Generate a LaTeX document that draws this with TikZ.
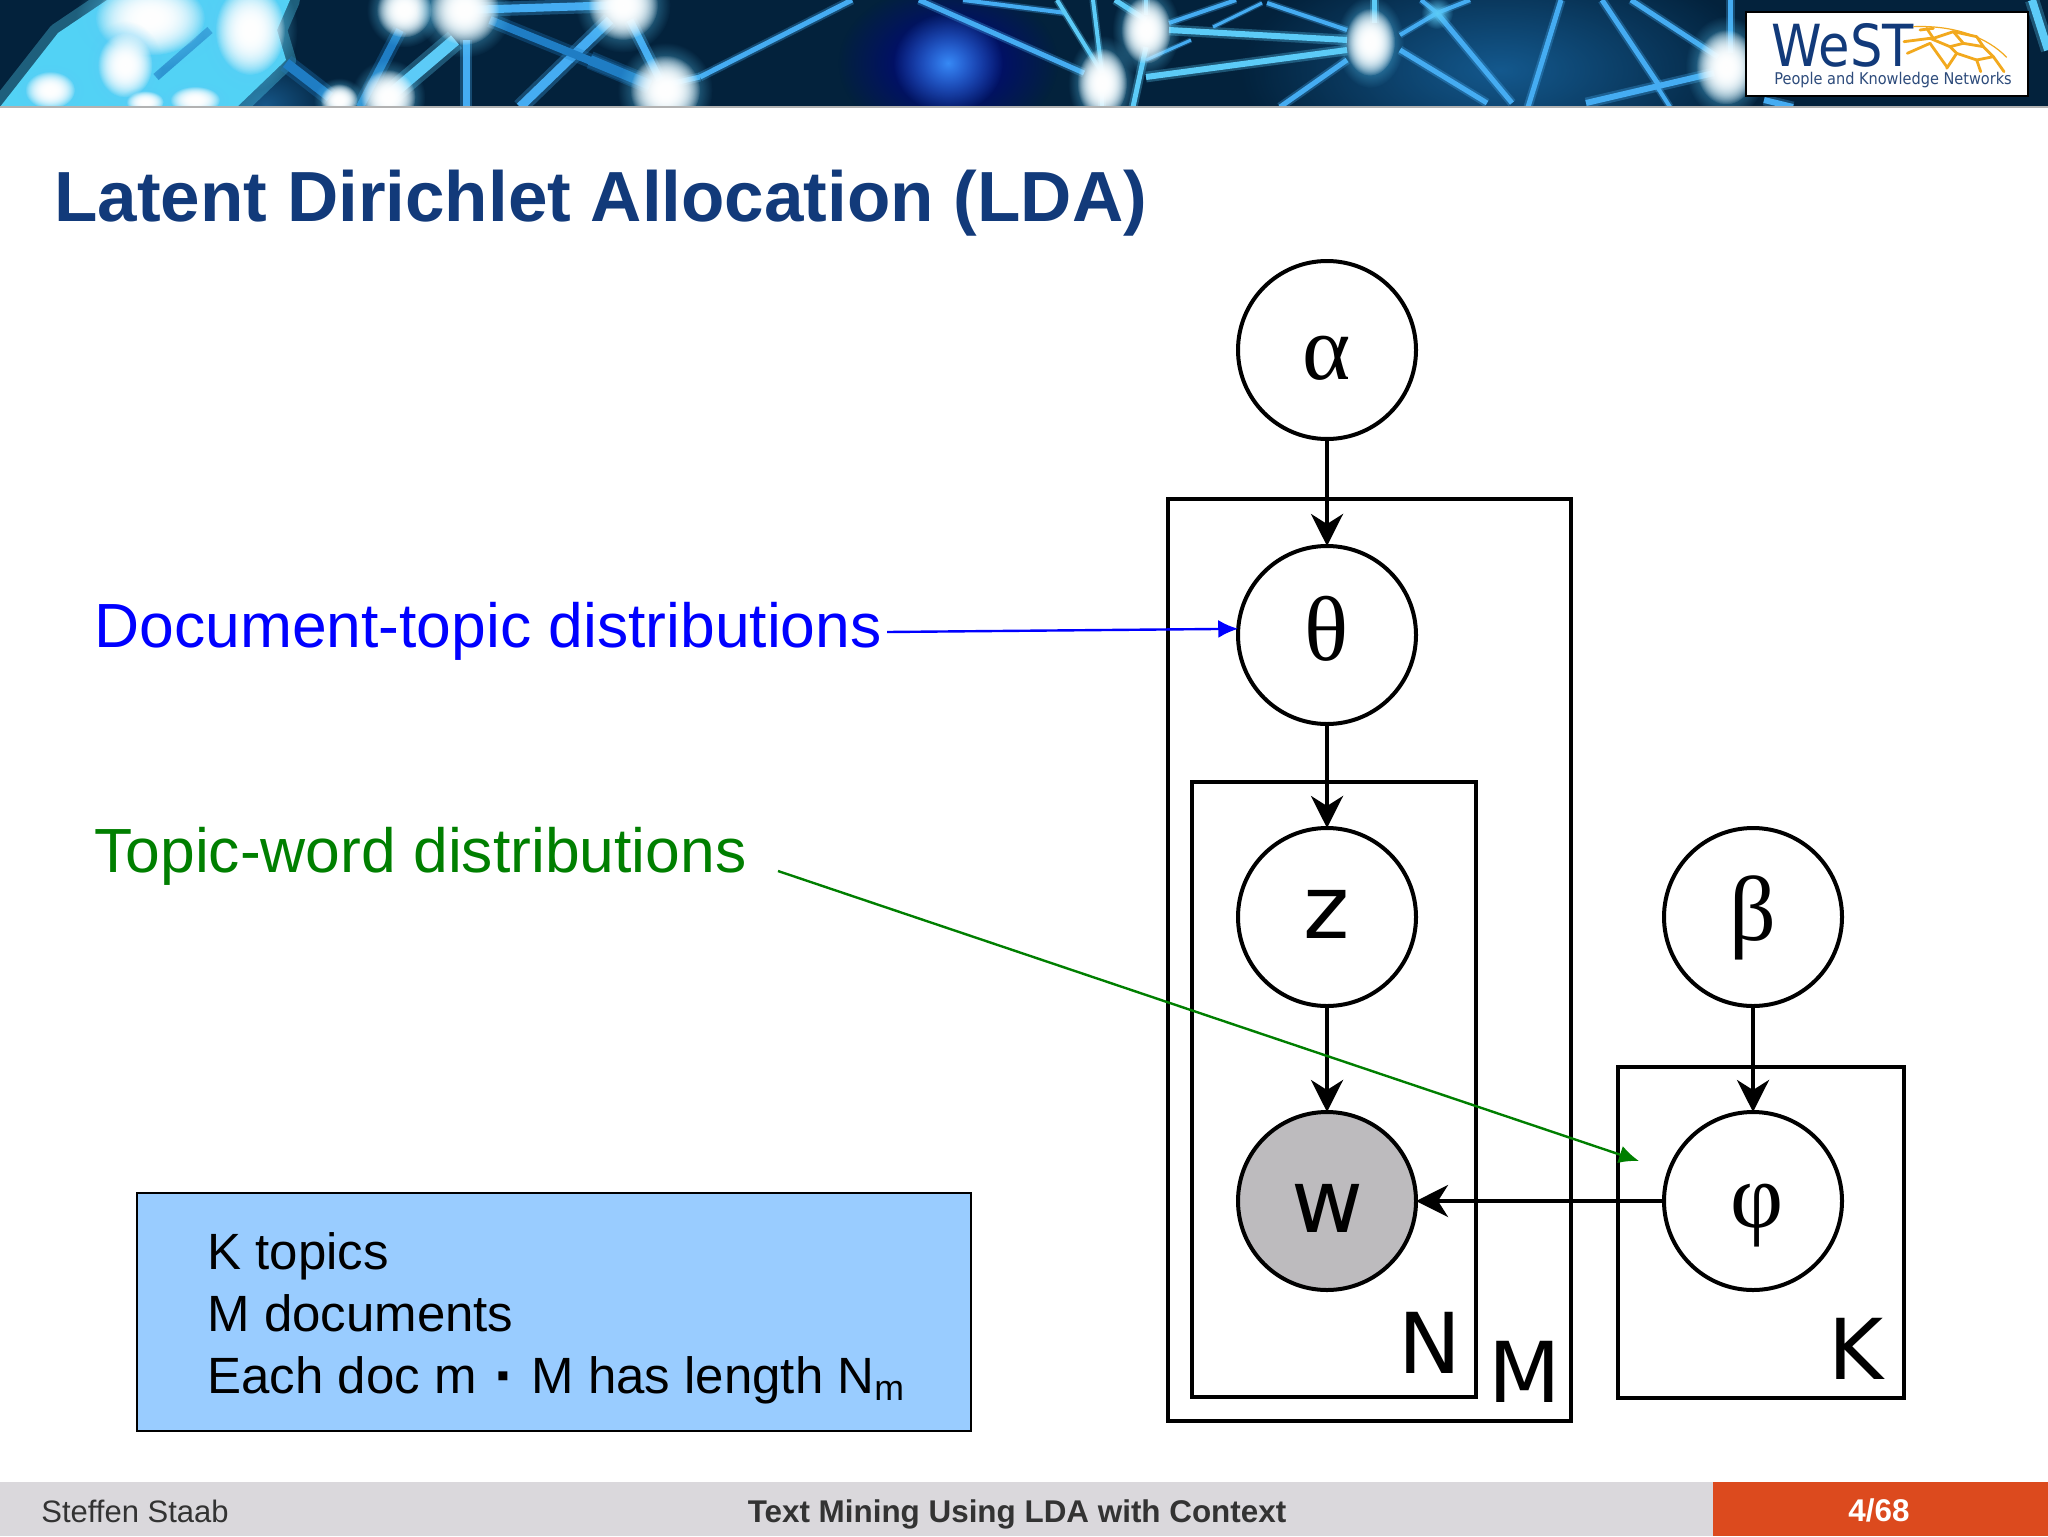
\documentclass[tikz,border=0pt]{standalone}
\usepackage{fontspec}
\setmainfont{Liberation Sans}
\newfontfamily\greekfont{Liberation Serif}
\newfontfamily\platefont{DejaVu Sans}
\newfontfamily\logofont{DejaVu Sans Condensed}
\usetikzlibrary{arrows.meta,positioning,calc,fadings}
\definecolor{titleblue}{HTML}{123A7A}
\definecolor{boxblue}{HTML}{99CCFF}
\definecolor{footgray}{HTML}{DAD8DC}
\definecolor{footorange}{HTML}{DC4A1E}
\definecolor{bannerdark}{HTML}{03223C}
\definecolor{bannerline}{HTML}{45ACF2}
\definecolor{bannerdeep}{HTML}{1F7DC4}
\definecolor{bannerpale}{HTML}{5CCBF7}
\definecolor{bannermass}{HTML}{52D2F5}
\definecolor{logoorange}{HTML}{F2A91E}
\definecolor{wordgreen}{HTML}{007F00}
\definecolor{wgray}{HTML}{BDBBBE}
\tikzfading[name=glowfade, inner color=transparent!0, outer color=transparent!100]
% glyph set with its baseline a given distance below the node centre
\newcommand{\lowglyph}[2]{\raisebox{-#1}[0pt][0pt]{#2}}
% soft white knot: a pale halo and three stacked white glows
\newcommand{\glowknot}[4]{
  \fill [bannerpale, path fading=glowfade] (#1,#2) ellipse (#3*1.7 and #4*1.7);
  \foreach \pass in {1,2,3}
    \fill [white, path fading=glowfade] (#1,#2) ellipse (#3*1.25 and #4*1.25);
}
\tikzset{
  var/.style={circle, draw, line width=2pt, fill=white, minimum size=89pt, inner sep=0pt, outer sep=0pt, font=\fontsize{44}{44}\platefont\selectfont},
  greekvar/.style={var, font=\fontsize{46}{46}\greekfont\selectfont},
  plate/.style={draw, line width=2pt, inner sep=0pt, outer sep=0pt, anchor=north west},
  platelabel/.style={inner sep=0pt, anchor=base west, font=\fontsize{42}{42}\platefont\selectfont},
  edge/.style={line width=2pt, -{Stealth[length=16pt,width=16pt,inset=5pt]}},
  hint/.style={line width=1.2pt, -{Latex[length=10pt,width=9pt]}},
  hintlabel/.style={inner sep=0pt, anchor=base west, font=\fontsize{31.2}{31.2}\selectfont},
  countlabel/.style={inner sep=0pt, anchor=base west, font=\fontsize{25.5}{25.5}\selectfont},
  footlabel/.style={inner sep=0pt, anchor=base, text=black!80, font=\fontsize{15.5}{15.5}\selectfont},
  footbold/.style={footlabel, font=\fontsize{15.7}{15.7}\bfseries\selectfont},
  mesh/.style={logoorange, line width=1.4pt, line cap=round}
}
\begin{document}
\begin{tikzpicture}[x=0.5pt,y=-0.5pt]
    \useasboundingbox (0,0) rectangle (2048,1536);
    \fill [white] (0,0) rectangle (2048,1536);

    % banner
    \begin{scope}
    \clip (0,0) rectangle (2048,107);
    \fill [bannerdark] (0,0) rectangle (2048,107);
    \fill [blue!55!black, path fading=glowfade] (948,63) ellipse (110 and 80);
    \fill [bannerdeep, opacity=.6, path fading=glowfade] (1500,70) ellipse (260 and 120);
    \fill [bannerline!80!blue, path fading=glowfade] (948,63) ellipse (55 and 50);
    \fill [bannerdeep!70!black, path fading=glowfade] (265,105) ellipse (70 and 50);
    % left mass
    \draw [bannermass, line width=10pt, opacity=.35, line join=round] (0,107) -- (58,33) -- (107,0) -- (290,0) -- (277,30) -- (286,60) -- (237,107) -- cycle;
    \fill [bannermass] (0,107) -- (58,33) -- (107,0) -- (290,0) -- (277,30) -- (286,60) -- (237,107) -- cycle;
    \draw [bannerdeep, line width=4pt, opacity=.7] (210,30) -- (156,77);
    \foreach \xa/\ya/\ra/\rb in {150/18/44/30, 125/65/22/26, 250/30/28/36, 145/102/15/9, 195/100/20/11, 50/90/20/15}
      {\glowknot{\xa}{\ya}{\ra}{\rb}}
    % lines
    \foreach \xa/\ya/\xb/\yb/\wd/\col in {286/63/330/97/10/bannerdeep, 400/30/360/107/8/bannerdeep, 455/40/388/97/12/bannerpale,
        466/40/466/107/7/bannerline, 464/10/623/5/8/bannerline, 610/20/520/107/9/bannerline, 630/20/660/80/7/bannerline,
        490/20/650/85/8/bannerdeep, 590/60/650/85/10/bannerdeep, 665/85/700/77/5/bannerline, 852/0/700/77/5/bannerline,
        919/0/1084/73/5/bannerline, 963/0/1066/13/4/bannerline, 1057/0/1102/73/4/bannerpale, 1093/0/1102/73/4/bannerpale,
        1115/0/1146/20/5/bannerpale, 1146/0/1146/15/4/bannerpale, 1146/47/1133/107/5/bannerpale, 1102/83/1102/107/4/bannerpale,
        1169/30/1347/40/6/bannerpale, 1146/77/1347/50/6/bannerpale, 1169/23/1236/0/4/bannerline, 1146/60/1191/40/3/bannerline,
        1213/27/1262/3/3/bannerline, 1267/3/1347/30/4/bannerline, 1374/0/1374/23/5/bannerpale, 1347/60/1280/107/5/bannerline,
        1400/35/1437/13/4/bannerline, 1437/13/1470/0/4/bannerline, 1421/0/1437/13/4/bannerline, 1437/13/1512/103/5/bannerline,
        1400/50/1487/103/5/bannerline, 1561/0/1528/107/5/bannerline, 1602/0/1660/87/5/bannerline, 1631/0/1718/57/5/bannerline,
        1730/0/1730/53/5/bannerline, 1586/103/1714/73/6/bannerline, 1670/107/1656/85/4/bannerline, 1764/100/1793/107/6/bannerline,
        2032/0/2048/50/8/bannerpale}
      {
      \draw [\col, line width=\wd*0.9pt, opacity=.3] (\xa,\ya) -- (\xb,\yb);
      \draw [\col, line width=\wd*0.5pt] (\xa,\ya) -- (\xb,\yb);
      }
    % knots
    \foreach \xa/\ya/\ra/\rb in {388/97/22/22, 339/100/15/13, 404/10/22/22, 464/10/28/28, 623/5/28/28, 665/90/28/28,
        1146/30/20/27, 1102/83/20/28, 1370/42/20/27, 1726/67/24/30}
      {\glowknot{\xa}{\ya}{\ra}{\rb}}
    \fill [bannerpale, path fading=glowfade] (1437,13) ellipse (16 and 16);
    \end{scope}
    \fill [gray!60] (0,106) rectangle (2048,108);

    % logo
    \node [draw=black, line width=1pt, fill=white, inner sep=0pt, outer sep=0pt, anchor=north west, minimum width=141pt, minimum height=42pt] (logo) at (1746,12) {};
    \node [inner sep=0pt, anchor=base west, text=titleblue, xscale=0.98, font=\fontsize{29}{29}\logofont\selectfont] (west) at (1771,67) {WeST};
    \node [inner sep=0pt, anchor=base west, text=titleblue!75!gray, font=\fontsize{8.07}{8.07}\logofont\selectfont] (people) at (1774,85) {People and Knowledge Networks};
    \begin{scope}[shift={(1700,0)},xscale=1/3,yscale=1/3]
    \foreach \xa/\ya/\xb/\yb in {612/125/690/115, 622/160/690/130, 690/115/750/140, 690/130/740/200, 750/140/770/160,
        770/160/740/205, 770/160/830/180, 830/180/842/215, 830/180/880/170, 880/170/912/215, 680/85/700/115, 700/115/760/95,
        760/95/790/130, 790/130/750/140, 790/130/850/140, 850/140/880/170, 760/95/830/110, 830/110/850/140, 660/90/700/85}
      \draw [mesh] (\xa,\ya) -- (\xb,\yb);
    \draw [logoorange, line width=.6pt] (640,80) .. controls (760,75) and (860,110) .. (920,172);
    \end{scope}

    % title
    \node [inner sep=0pt, anchor=base west, text=titleblue, font=\fontsize{35.5}{35.5}\bfseries\selectfont] (title) at (54,221) {Latent Dirichlet Allocation (LDA)};

    % plates
    \node [plate, minimum width=201.5pt, minimum height=461pt] (plateM) at (1168,499) {};
    \node [plate, minimum width=142pt, minimum height=307.5pt] (plateN) at (1192,782) {};
    \node [plate, minimum width=143pt, minimum height=165.5pt] (plateK) at (1618,1067) {};
    \node [platelabel] (labelN) at (1398,1373) {N};
    \node [platelabel] (labelM) at (1488,1402) {M};
    \node [platelabel] (labelK) at (1828,1379) {K};

    % variables
    \node [greekvar] (alpha) at (1327,350) {\lowglyph{14.5pt}{α}};
    \node [greekvar] (theta) at (1327,635) {\lowglyph{12.5pt}{θ}};
    \node [var] (z) at (1327,917) {\lowglyph{10.5pt}{z}};
    \node [var, fill=wgray] (w) at (1327,1201) {\lowglyph{15.5pt}{w}};
    \node [greekvar] (beta) at (1753,917) {\lowglyph{11.5pt}{β}};
    \node [greekvar] (phi) at (1753,1201) {\hspace*{4pt}\lowglyph{13pt}{φ}};

    \draw [edge] (alpha) -- (theta);
    \draw [edge] (theta) -- (z);
    \draw [edge] (z) -- (w);
    \draw [edge] (beta) -- (phi);
    \draw [edge] (phi) -- (w);

    % hints
    \node [hintlabel, text=blue] (doclabel) at (94,647) {Document-topic distributions};
    \node [hintlabel, text=wordgreen] (wordlabel) at (94,872) {Topic-word distributions};
    \coordinate (docstart) at (887,632);
    \coordinate (wordstart) at (778,871);
    \coordinate (wordtip) at (1639,1161);
    \draw [hint, blue] (docstart) -- (theta.176);
    \draw [hint, wordgreen] (wordstart) -- (wordtip);

    % counts box
    \node [draw=black, line width=.8pt, fill=boxblue, inner sep=0pt, outer sep=0pt, anchor=north west, minimum width=417pt, minimum height=119pt] (counts) at (137,1193) {};
    \node [countlabel] (ktopics) at (207,1269) {K topics};
    \node [countlabel] (mdocs) at (207,1331) {M documents};
    \node [countlabel] (eachdoc) at (207,1393) {Each doc m\hspace{10pt}\raisebox{3pt}{\fontsize{18}{18}\selectfont ▪}\hspace{11pt}M has length N\textsubscript{m}};

    % footer
    \fill [footgray] (0,1482) rectangle (1713,1536);
    \fill [footorange] (1713,1482) rectangle (2048,1536);
    \node [footlabel, anchor=base west] (author) at (41,1522) {Steffen Staab};
    \node [footbold] (talk) at (1017,1522) {Text Mining Using LDA with Context};
    \node [footbold, text=white] (page) at (1879,1521) {4/68};
\end{tikzpicture}
\end{document}
